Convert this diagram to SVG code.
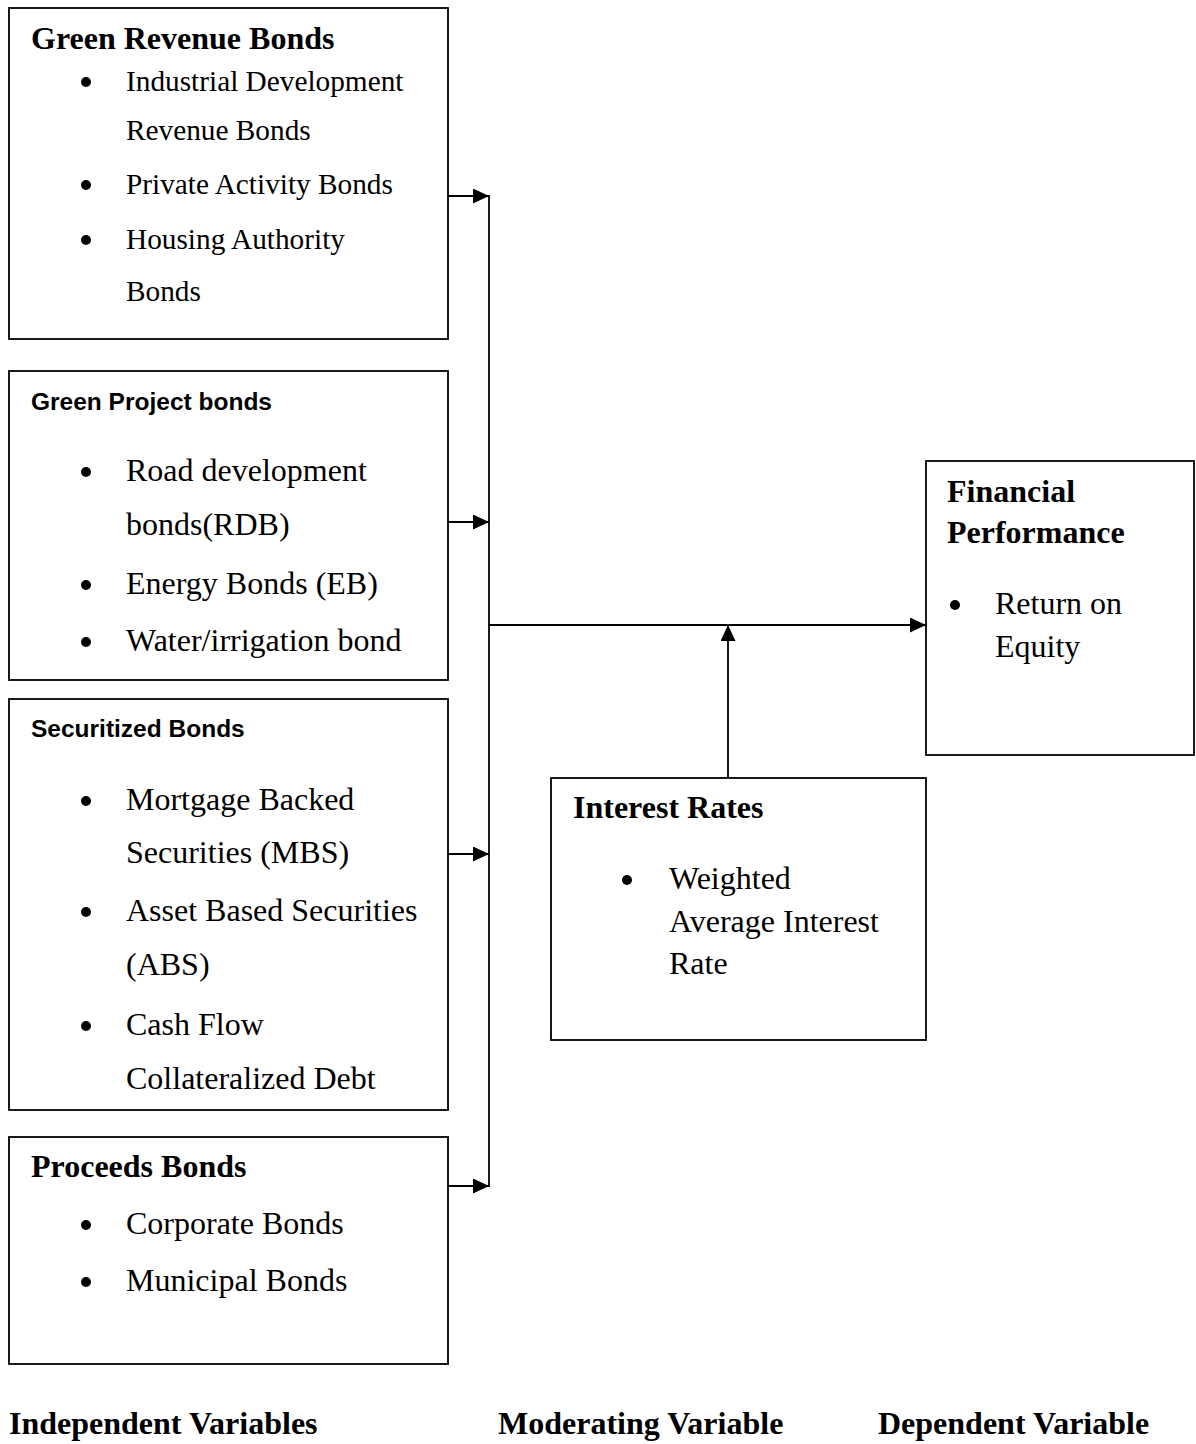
<svg xmlns="http://www.w3.org/2000/svg" width="1196" height="1444" viewBox="0 0 1196 1444">
<style>
.box{fill:#fff;stroke:#000;stroke-width:1.8}
.h{font-family:"Liberation Serif","Times New Roman",serif;font-weight:bold;font-size:32px;fill:#000}
.hs{font-family:"Liberation Sans",Arial,sans-serif;font-weight:bold;font-size:24.5px;fill:#000}
.t{font-family:"Liberation Serif","Times New Roman",serif;font-size:32px;fill:#000}
.t2{font-family:"Liberation Serif","Times New Roman",serif;font-size:29.3px;fill:#000}
.b{fill:#000}
.ln{stroke:#000;stroke-width:1.8;fill:none}
</style>
<defs>
<marker id="ah" markerUnits="userSpaceOnUse" markerWidth="18" markerHeight="18" refX="16" refY="7.5" orient="auto">
<path d="M0,0 L16,7.5 L0,15 Z" fill="#000"/>
</marker>
</defs>
<rect width="1196" height="1444" fill="#fff"/>

<g id="green-revenue-bonds">
<rect class="box" x="9" y="8" width="439" height="331"/>
<text class="h" x="31" y="49">Green Revenue Bonds</text>
<circle class="b" cx="86" cy="82" r="5"/>
<text class="t2" x="126" y="91">Industrial Development</text>
<text class="t2" x="126" y="140">Revenue Bonds</text>
<circle class="b" cx="86" cy="185" r="5"/>
<text class="t2" x="126" y="194">Private Activity Bonds</text>
<circle class="b" cx="86" cy="240" r="5"/>
<text class="t2" x="126" y="249">Housing Authority</text>
<text class="t2" x="126" y="301">Bonds</text>
</g>

<g id="green-project-bonds">
<rect class="box" x="9" y="371" width="439" height="309"/>
<text class="hs" x="31" y="410">Green Project bonds</text>
<circle class="b" cx="86" cy="472" r="5"/>
<text class="t" x="126" y="481">Road development</text>
<text class="t" x="126" y="535">bonds(RDB)</text>
<circle class="b" cx="86" cy="585" r="5"/>
<text class="t" x="126" y="594">Energy Bonds (EB)</text>
<circle class="b" cx="86" cy="642" r="5"/>
<text class="t" x="126" y="651">Water/irrigation bond</text>
</g>

<g id="securitized-bonds">
<rect class="box" x="9" y="699" width="439" height="411"/>
<text class="hs" x="31" y="737">Securitized Bonds</text>
<circle class="b" cx="86" cy="801" r="5"/>
<text class="t" x="126" y="810">Mortgage Backed</text>
<text class="t" x="126" y="863">Securities (MBS)</text>
<circle class="b" cx="86" cy="912" r="5"/>
<text class="t" x="126" y="921">Asset Based Securities</text>
<text class="t" x="126" y="975">(ABS)</text>
<circle class="b" cx="86" cy="1026" r="5"/>
<text class="t" x="126" y="1035">Cash Flow</text>
<text class="t" x="126" y="1089">Collateralized Debt</text>
</g>

<g id="proceeds-bonds">
<rect class="box" x="9" y="1137" width="439" height="227"/>
<text class="h" x="31" y="1177">Proceeds Bonds</text>
<circle class="b" cx="86" cy="1225" r="5"/>
<text class="t" x="126" y="1234">Corporate Bonds</text>
<circle class="b" cx="86" cy="1282" r="5"/>
<text class="t" x="126" y="1291">Municipal Bonds</text>
</g>

<g id="financial-performance">
<rect class="box" x="926" y="461" width="268" height="294"/>
<text class="h" x="947" y="502">Financial</text>
<text class="h" x="947" y="543">Performance</text>
<circle class="b" cx="955" cy="605" r="5"/>
<text class="t" x="995" y="614">Return on</text>
<text class="t" x="995" y="657">Equity</text>
</g>

<g id="interest-rates">
<rect class="box" x="551" y="778" width="375" height="262"/>
<text class="h" x="573" y="818">Interest Rates</text>
<circle class="b" cx="627" cy="880" r="5"/>
<text class="t" x="669" y="889">Weighted</text>
<text class="t" x="669" y="932">Average Interest</text>
<text class="t" x="669" y="974">Rate</text>
</g>

<g id="connectors">
<line class="ln" x1="489" y1="195" x2="489" y2="1187"/>
<line class="ln" x1="448" y1="196" x2="489" y2="196" marker-end="url(#ah)"/>
<line class="ln" x1="448" y1="522" x2="489" y2="522" marker-end="url(#ah)"/>
<line class="ln" x1="448" y1="854" x2="489" y2="854" marker-end="url(#ah)"/>
<line class="ln" x1="448" y1="1186" x2="489" y2="1186" marker-end="url(#ah)"/>
<line class="ln" x1="489" y1="625" x2="926" y2="625" marker-end="url(#ah)"/>
<line class="ln" x1="728" y1="778" x2="728" y2="625" marker-end="url(#ah)"/>
</g>

<g id="labels">
<text class="h" x="9" y="1434">Independent Variables</text>
<text class="h" x="498" y="1434">Moderating Variable</text>
<text class="h" x="878" y="1434">Dependent Variable</text>
</g>
</svg>
